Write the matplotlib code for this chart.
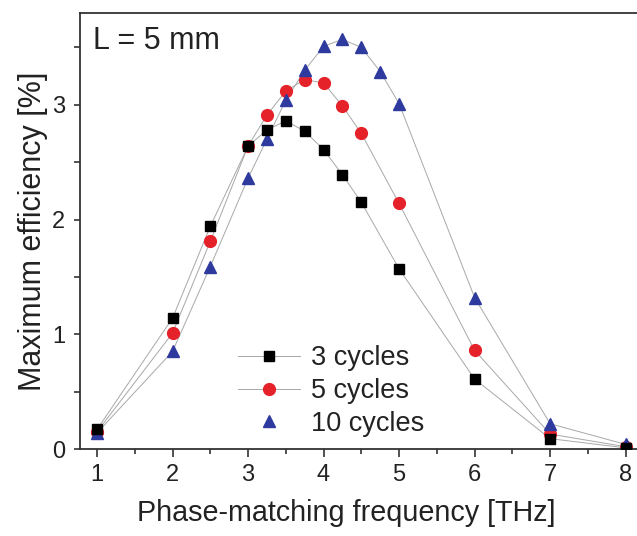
import matplotlib
matplotlib.use("Agg")
import matplotlib.pyplot as plt
from matplotlib.lines import Line2D
from matplotlib.ticker import MultipleLocator

plt.rcParams['font.family'] = ['Liberation Sans', 'DejaVu Sans']

# phase-matching frequency [THz]
freq_3 = [1, 2, 2.5, 3, 3.25, 3.5, 3.75, 4, 4.25, 4.5, 5, 6, 7, 8]
eff_3 = [0.17, 1.14, 1.94, 2.64, 2.78, 2.86, 2.77, 2.61, 2.39, 2.15, 1.57, 0.61, 0.09, 0.01]

freq_5 = [1, 2, 2.5, 3, 3.25, 3.5, 3.75, 4, 4.25, 4.5, 5, 6, 7, 8]
eff_5 = [0.15, 1.01, 1.81, 2.64, 2.91, 3.12, 3.22, 3.19, 2.99, 2.75, 2.14, 0.86, 0.13, 0.02]

freq_10 = [1, 2, 2.5, 3, 3.25, 3.5, 3.75, 4, 4.25, 4.5, 4.75, 5, 6, 7, 8]
eff_10 = [0.14, 0.85, 1.59, 2.36, 2.70, 3.04, 3.30, 3.51, 3.57, 3.50, 3.29, 3.01, 1.32, 0.22, 0.04]

labels = ["3 cycles", "5 cycles", "10 cycles"]

fig = plt.figure(figsize=(6.37, 5.36), dpi=100)
ax = fig.add_axes([80 / 637, 87 / 536, 560 / 637, 436 / 536])

line_col = "#a8a8a8"
ax.plot(freq_3, eff_3, color=line_col, lw=0.7, zorder=1)
ax.plot(freq_5, eff_5, color=line_col, lw=0.7, zorder=1)
ax.plot(freq_10, eff_10, color=line_col, lw=0.7, zorder=1)
ax.plot(freq_3, eff_3, ls="none", marker="s", ms=7.5, color="black", zorder=3)
ax.plot(freq_5, eff_5, ls="none", marker="o", ms=8.5, color="#e5222a", zorder=2)
ax.plot(freq_10, eff_10, ls="none", marker="^", ms=9, color="#2e3a9e", zorder=2)

ax.set_xlim(0.775, 8.19)
ax.set_ylim(0, 3.8)
ax.xaxis.set_major_locator(MultipleLocator(1))
ax.xaxis.set_minor_locator(MultipleLocator(0.5))
ax.yaxis.set_major_locator(MultipleLocator(1))
ax.yaxis.set_minor_locator(MultipleLocator(0.5))

for s in ax.spines.values():
    s.set_linewidth(1.3)
    s.set_color("#333333")
ax.tick_params(which="both", direction="out", colors="#333333", labelcolor="#222222",
               labelsize=17, width=1.2)
ax.tick_params(axis="x", which="major", length=6, pad=5)
ax.tick_params(axis="x", which="minor", length=3.5)
ax.tick_params(axis="y", which="major", length=4.5, pad=6)
ax.tick_params(axis="y", which="minor", length=4.5)

ax.set_xlabel("Phase-matching frequency [THz]", fontsize=20.7, color="#222222", labelpad=9)
ax.xaxis.label.set_x(0.475)
ax.set_ylabel("Maximum efficiency [%]", fontsize=22, color="#222222", labelpad=3)

ax.text(0.023, 0.97, "L = 5 mm", transform=ax.transAxes, fontsize=22,
        color="#222222", ha="left", va="top")

handles = [
    Line2D([], [], color=line_col, lw=0.7, marker="s", ms=7.5, mfc="black", mec="black"),
    Line2D([], [], color=line_col, lw=0.7, marker="o", ms=8.5, mfc="#e5222a", mec="#e5222a"),
    Line2D([], [], ls="none", marker="^", ms=9, mfc="#2e3a9e", mec="#2e3a9e"),
]
leg = ax.legend(handles, labels, loc="center left", bbox_to_anchor=(0.282, 0.133),
                frameon=False, fontsize=19.5, handlelength=2.3, handletextpad=0.4,
                labelspacing=0.25, borderpad=0, borderaxespad=0)
for t in leg.get_texts():
    t.set_color("#222222")

fig.savefig("out.png", dpi=100)
